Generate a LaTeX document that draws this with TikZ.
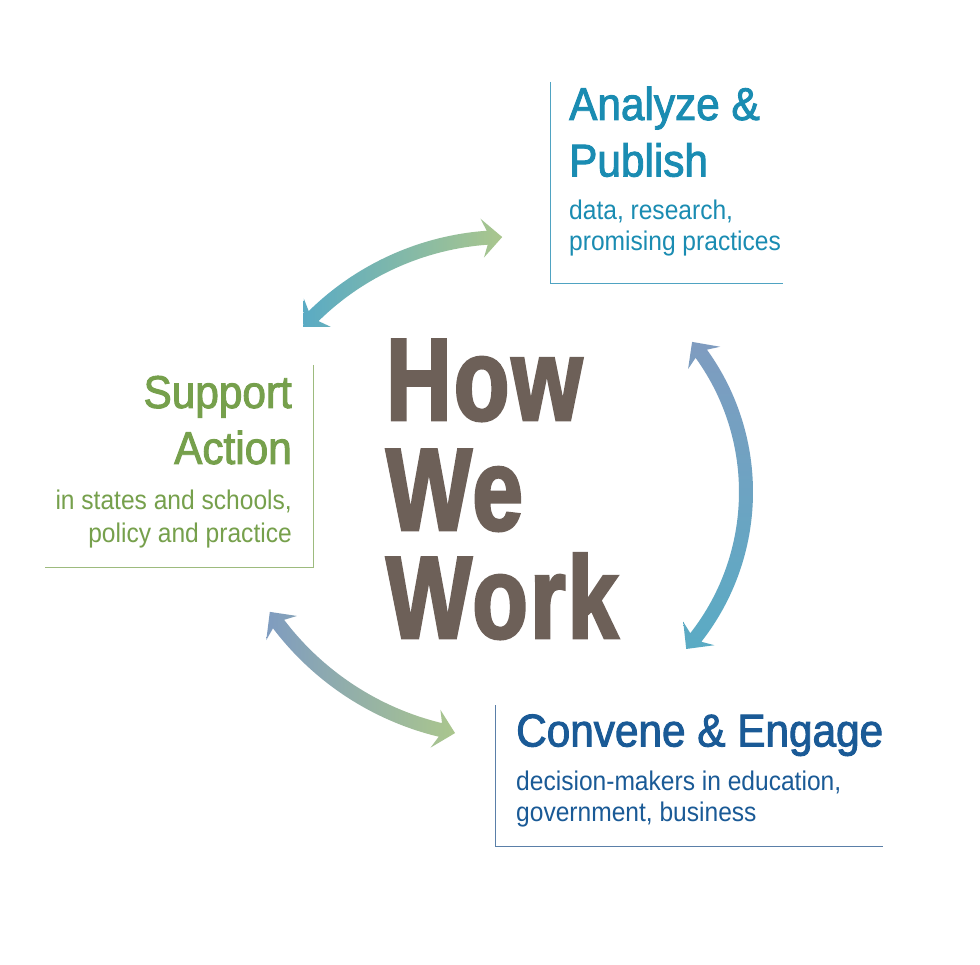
\documentclass[tikz,border=0pt]{standalone}
\usepackage{fontspec}
\setmainfont{Liberation Sans}[FakeStretch=0.91]
\newfontfamily\titlefont{Liberation Sans}[FakeStretch=0.92,FakeBold=2]
\newfontfamily\hwwfont{Liberation Sans}[FakeStretch=0.775,FakeBold=2.4,LetterSpace=2]
\definecolor{cAna}{HTML}{1A8CB2}
\definecolor{cSup}{HTML}{76A04C}
\definecolor{cCon}{HTML}{1A5A96}
\definecolor{cHow}{HTML}{6D6058}
\definecolor{lAna}{HTML}{4FA3C2}
\definecolor{lSup}{HTML}{9DBB7E}
\definecolor{lCon}{HTML}{5A7FA8}
\definecolor{aTeal}{HTML}{5AABC4}
\definecolor{aGreen}{HTML}{AAC68D}
\definecolor{aBlue}{HTML}{7F9CC0}
\tikzset{
  title/.style={inner sep=0pt,font=\titlefont\fontsize{46}{46}\selectfont},
  sub/.style={inner sep=0pt,font=\fontsize{27}{27}\selectfont},
  how/.style={inner sep=0pt,anchor=base west,text=cHow,font=\hwwfont\bfseries\fontsize{117}{117}\selectfont},
  rule/.style={line width=1pt},
}
% #1 centre, #2 radius, #3 start angle, #4 end angle, #5 shading options
\newcommand\twoheadarc[5]{%
  \begin{scope}[shift={#1}]
    \pgfmathsetmacro\rr{#2}
    \pgfmathsetmacro\dL{15/\rr*180/pi}
    \pgfmathsetmacro\ds{5/\rr*180/pi}
    \pgfmathsetmacro\aa{#3}
    \pgfmathsetmacro\bb{#4}
    \shade[#5]
      (\aa:\rr) -- ({\aa+\dL+\ds}:{\rr+19.5}) -- ({\aa+\dL}:{\rr+7})
      arc[start angle={\aa+\dL}, end angle={\bb-\dL}, radius={\rr+7}]
      -- ({\bb-\dL-\ds}:{\rr+19.5}) -- (\bb:\rr) -- ({\bb-\dL-\ds}:{\rr-19.5})
      -- ({\bb-\dL}:{\rr-7})
      arc[start angle={\bb-\dL}, end angle={\aa+\dL}, radius={\rr-7}]
      -- ({\aa+\dL+\ds}:{\rr-19.5}) -- cycle;
  \end{scope}}
\begin{document}
\begin{tikzpicture}[x=1pt,y=1pt]
\useasboundingbox[fill=white] (0,0) rectangle (980,-965);

% arrows
\twoheadarc{(507,-513)}{276}{91}{137.6}{left color=aTeal,right color=aGreen}
\twoheadarc{(510,-492)}{236}{-41.7}{39.5}{top color=aBlue,bottom color=aTeal}
\twoheadarc{(508,-450)}{288}{214.2}{259.4}{left color=aBlue,right color=aGreen}

% How We Work
\node[how] (how) at (386,-420) {How};
\node[how] (we) at (386,-530) {We};
\node[how] (work) at (386,-638) {Work};

% Analyze & Publish
\coordinate (anaTop) at (550,-82);
\coordinate (anaCorner) at (550,-284);
\coordinate (anaEnd) at (783,-284);
\draw[rule,lAna] (anaTop) -- (anaCorner) -- (anaEnd);
\node[title,anchor=base west,text=cAna] (ana1) at (569,-120) {Analyze \&};
\node[title,anchor=base west,text=cAna] (ana2) at (569,-176.5) {Publish};
\node[sub,anchor=base west,text=cAna] (ana3) at (569,-220) {data, research,};
\node[sub,anchor=base west,text=cAna] (ana4) at (569,-251) {promising practices};

% Support Action
\coordinate (supTop) at (313,-365);
\coordinate (supCorner) at (313,-567);
\coordinate (supEnd) at (45,-567);
\draw[rule,lSup] (supTop) -- (supCorner) -- (supEnd);
\node[title,anchor=base east,text=cSup] (sup1) at (292,-408) {Support};
\node[title,anchor=base east,text=cSup] (sup2) at (292,-464) {Action};
\node[sub,anchor=base east,text=cSup] (sup3) at (292,-509) {in states and schools,};
\node[sub,anchor=base east,text=cSup] (sup4) at (292,-542) {policy and practice};

% Convene & Engage
\coordinate (conTop) at (495,-705);
\coordinate (conCorner) at (495,-846);
\coordinate (conEnd) at (883,-846);
\draw[rule,lCon] (conTop) -- (conCorner) -- (conEnd);
\node[title,anchor=base west,text=cCon] (con1) at (516,-746.5) {Convene \& Engage};
\node[sub,anchor=base west,text=cCon] (con2) at (516,-790) {decision-makers in education,};
\node[sub,anchor=base west,text=cCon] (con3) at (516,-821) {government, business};
\end{tikzpicture}
\end{document}
